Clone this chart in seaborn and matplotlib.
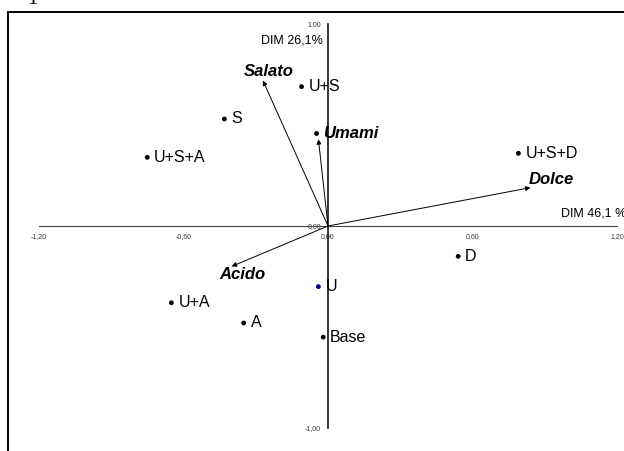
import matplotlib.pyplot as plt
import seaborn as sns
import pandas as pd
from matplotlib.patches import Rectangle

# campioni: coordinate su DIM 1 (46,1%) e DIM 2 (26,1%)
samples = ["U+S", "S", "U+S+A", "U+S+D", "D", "U", "U+A", "A", "Base"]
dim1 = [-0.11, -0.43, -0.75, 0.79, 0.54, -0.04, -0.65, -0.35, -0.02]
dim2 = [0.69, 0.53, 0.34, 0.36, -0.15, -0.30, -0.38, -0.48, -0.55]

# variabili (vettori)
variables = ["Salato", "Umami", "Acido", "Dolce"]
var_dim1 = [-0.27, -0.04, -0.40, 0.84]
var_dim2 = [0.72, 0.43, -0.20, 0.19]
umami_dot = [-0.05, 0.46]

xticks = [-1.2, -0.6, 0.0, 0.6, 1.2]
yticks = [-1.0, 0.0, 1.0]

df = pd.DataFrame({"campione": samples, "dim1": dim1, "dim2": dim2})

sns.set_style("white")
plt.rcParams["font.family"] = ["Liberation Sans", "DejaVu Sans"]
plt.rcParams["text.color"] = "black"

fig = plt.figure(figsize=(6.24, 4.51), dpi=100)
ax = fig.add_axes([0, 0, 1, 1])
ax.set_xlim(-1.361, 1.228)
ax.set_ylim(-1.114, 1.119)
ax.patch.set_alpha(0)

# bordo area grafico
fig.patches.append(Rectangle((8 / 624, -0.2), 1.2, 1.2 - 12 / 451,
                             transform=fig.transFigure, fill=False,
                             edgecolor="black", lw=1.4, clip_on=False))
fig.text(32 / 624, 1.0, "1", family="Liberation Serif", fontsize=15,
         ha="center", va="center")

# vettori delle variabili
for name, vx, vy in zip(variables, var_dim1, var_dim2):
    ax.annotate("", xy=(vx, vy), xytext=(0, 0),
                arrowprops=dict(arrowstyle="-|>", lw=0.7, color="black",
                                mutation_scale=7, shrinkA=0, shrinkB=0))

label_off = {"Salato": (4, 6.5), "Acido": (8, -5.5), "Dolce": (15, 6)}
for name, vx, vy in zip(variables, var_dim1, var_dim2):
    if name in label_off:
        ax.annotate(name, (vx, vy), xytext=label_off[name],
                    textcoords="offset points", ha="center", va="center",
                    fontsize=12, fontweight="bold", fontstyle="italic")

# campioni
colors = ["#000080" if s == "U" else "black" for s in samples]
sns.scatterplot(data=df, x="dim1", y="dim2", hue="campione",
                palette=dict(zip(samples, colors)), s=12, linewidth=0,
                legend=False, ax=ax)
for name, x, y in zip(samples, dim1, dim2):
    ax.annotate(name, (x, y), xytext=(5, 0), textcoords="offset points",
                ha="left", va="center", fontsize=11.5)

ax.scatter([umami_dot[0]], [umami_dot[1]], s=12, color="black", linewidths=0)
ax.annotate("Umami", (umami_dot[0], umami_dot[1]), xytext=(5, 0),
            textcoords="offset points", ha="left", va="center",
            fontsize=12, fontweight="bold", fontstyle="italic")

ax.text(0.967, 0.064, "DIM 46,1 %", fontsize=9, ha="left", va="center")
ax.text(-0.02, 0.92, "DIM 26,1%", fontsize=9, ha="right", va="center")

# assi al centro
for s in ["top", "right"]:
    ax.spines[s].set_visible(False)
ax.spines["left"].set_position(("data", 0))
ax.spines["bottom"].set_position(("data", 0))
ax.spines["left"].set_bounds(-1, 1)
ax.spines["bottom"].set_bounds(-1.2, 1.2)
ax.spines["left"].set_linewidth(1.1)
ax.spines["left"].set_color("black")
ax.spines["bottom"].set_linewidth(0.8)
ax.spines["bottom"].set_color("#444444")
ax.set_xticks(xticks)
ax.set_xticklabels([f"{v:.2f}".replace(".", ",") for v in xticks])
ax.set_yticks(yticks)
ax.set_yticklabels([f"{v:.2f}".replace(".", ",") for v in yticks])
ax.tick_params(axis="x", direction="out", length=3, width=0.7, pad=2,
               labelsize=5, colors="#333333")
ax.tick_params(axis="y", direction="out", length=3, width=0.7, pad=2,
               labelsize=5, colors="#333333")
ax.set_xlabel("")
ax.set_ylabel("")

fig.savefig("out.png", dpi=100)
